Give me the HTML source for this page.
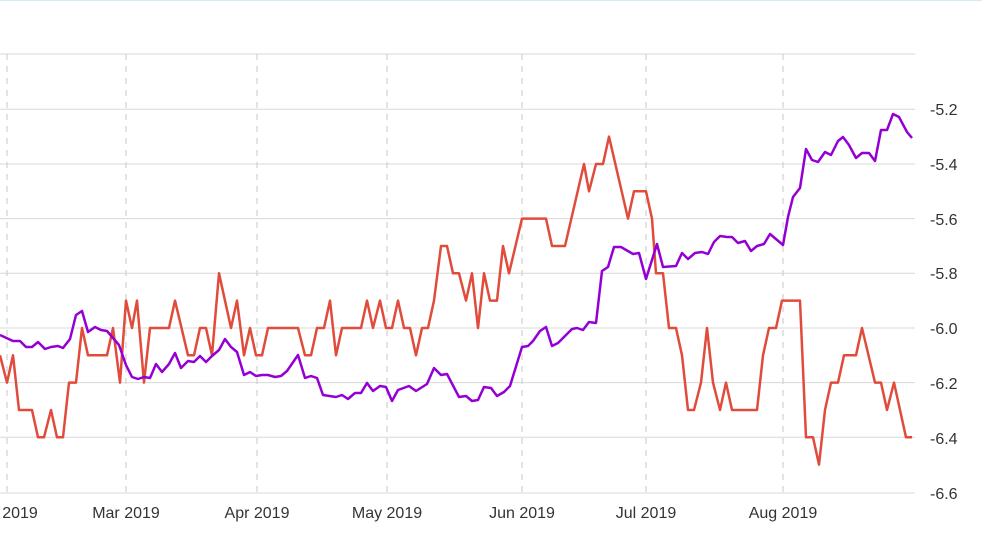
<!DOCTYPE html>
<html><head><meta charset="utf-8"><style>
html,body{margin:0;padding:0;background:#fff;}
svg{display:block;font-family:"Liberation Sans",sans-serif;}
</style></head><body>
<svg width="982" height="540" viewBox="0 0 982 540">
<line x1="0" y1="0.5" x2="982" y2="0.5" stroke="#d6eaf3" stroke-width="1"/>
<g stroke="#d8d8d8" stroke-width="1">
<line x1="0" y1="54" x2="915" y2="54"/>
<line x1="0" y1="109.3" x2="915" y2="109.3"/>
<line x1="0" y1="164" x2="915" y2="164"/>
<line x1="0" y1="218.6" x2="915" y2="218.6"/>
<line x1="0" y1="273.3" x2="915" y2="273.3"/>
<line x1="0" y1="328" x2="915" y2="328"/>
<line x1="0" y1="382.6" x2="915" y2="382.6"/>
<line x1="0" y1="437.3" x2="915" y2="437.3"/>
<line x1="0" y1="493" x2="915" y2="493"/>
</g>
<g stroke="#d4d4d4" stroke-width="1.3" stroke-dasharray="6,6">
<line x1="7" y1="54" x2="7" y2="493"/>
<line x1="126" y1="54" x2="126" y2="493"/>
<line x1="257" y1="54" x2="257" y2="493"/>
<line x1="387" y1="54" x2="387" y2="493"/>
<line x1="522" y1="54" x2="522" y2="493"/>
<line x1="646" y1="54" x2="646" y2="493"/>
<line x1="783" y1="54" x2="783" y2="493"/>
</g>
<g fill="#333" font-size="16">
<text x="930" y="115">-5.2</text>
<text x="930" y="170">-5.4</text>
<text x="930" y="225">-5.6</text>
<text x="930" y="279">-5.8</text>
<text x="930" y="334">-6.0</text>
<text x="930" y="389">-6.2</text>
<text x="930" y="444">-6.4</text>
<text x="930" y="499">-6.6</text>
</g>
<g fill="#333" font-size="16" text-anchor="middle">
<text x="20" y="518">2019</text>
<text x="126" y="518">Mar 2019</text>
<text x="257" y="518">Apr 2019</text>
<text x="387" y="518">May 2019</text>
<text x="522" y="518">Jun 2019</text>
<text x="646" y="518">Jul 2019</text>
<text x="783" y="518">Aug 2019</text>
</g>
<polyline fill="none" stroke="#e14b3b" stroke-width="2.5" stroke-linejoin="round" points="0,355.3 7,382.6 13,355.3 19,410 32,410 38,437.3 44,437.3 51,410 57,437.3 63,437.3 69,382.6 76,382.6 82,328 88,355.3 107,355.3 113,328 120,382.6 126,300.6 132,328 137,300.6 144,382.6 150,328 169,328 175,300.6 188,355.3 194,355.3 200,328 206,328 212,355.3 219,273.3 231,328 237,300.6 244,355.3 250,328 256,355.3 262,355.3 268,328 298,328 305,355.3 311,355.3 317,328 324,328 330,300.6 336,355.3 342,328 361,328 367,300.6 373,328 380,300.6 386,328 392,328 398,300.6 404,328 410,328 416,355.3 422,328 428,328 434,300.6 441,246 447,246 453,273.3 459,273.3 466,300.6 472,273.3 478,328 484,273.3 490,300.6 497,300.6 503,246 509,273.3 522,218.6 546,218.6 552,246 565,246 584,164 589,191.3 596,164 603,164 609,136.6 628,218.6 634,191.3 646,191.3 652,218.6 656,273.3 663,273.3 669,328 676,328 682,355.3 688,410 694,410 701,382.6 707,328 713,382.6 720,410 726,382.6 732,410 757,410 763,355.3 769,328 776,328 782,300.6 800,300.6 806,437.3 813,437.3 819,464.6 825,410 831,382.6 838,382.6 844,355.3 856,355.3 862,328 875,382.6 881,382.6 887,410 894,382.6 906,437.3 912,437.3"/>
<polyline fill="none" stroke="#9400d3" stroke-width="2.5" stroke-linejoin="round" points="0,335 13,341 20,341 26,347 32,347 38,342 45,349 51,347 58,346 63,348 70,339 76,315 82,311 88,332 95,327 101,330 107,331 113,338 119,345 126,365 132,377 138,379 144,377 150,378 156,364 162,372 169,364 175,353 181,368 188,361 194,362 200,356 206,362 212,356 219,350 225,339 231,347 237,352 244,375 250,372 256,376 262,375 268,375 275,377 281,376 287,371 298,355 305,378 311,376 317,378 323,395 336,397 342,395 348,399 355,393 361,393 367,383 373,391 380,386 386,387 392,401 398,390 409,386 416,391 427,384 434,368 441,375 447,374 459,397 466,396 472,401 478,400 484,387 491,388 497,396 504,392 510,386 522,347 528,346 533,341 540,331 546,327 552,346 558,343 572,329 577,328 583,330 589,322 596,323 602,271 608,267 614,247 621,247 633,254 639,253 646,279 657,244 663,267 676,266 682,253 688,259 695,253 702,252 708,254 714,242 720,236 727,237 732,237 738,243 745,241 751,251 757,246 764,244 770,234 783,245 788,217 793,197 800,188 806,149 812,160 818,162 825,152 831,155 838,141 843,137 849,145 856,158 862,153 869,153 875,161 881,130 887,130 893,114 899,117 907,132 912,138"/>
</svg>
</body></html>
